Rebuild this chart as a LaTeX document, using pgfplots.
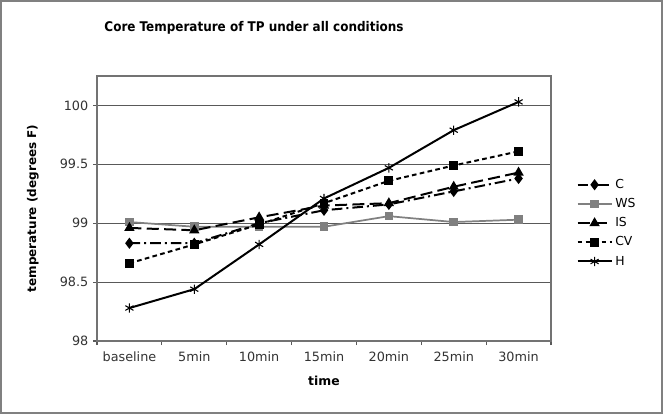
\documentclass[border=0pt]{standalone}
\usepackage{pgfplots}
\pgfplotsset{compat=1.18}
\usepackage{fontspec}
\setmainfont{DejaVu Sans}
\newfontfamily\titlefont{DejaVu Sans Condensed}
\begin{document}
\begin{tikzpicture}
\useasboundingbox (0,0) rectangle (497.25pt,310.5pt);
\draw[gray, line width=1.2pt] (0.8pt,0.8pt) rectangle (496.45pt,309.7pt);
\node[font=\titlefont\bfseries\fontsize{10}{12}\selectfont] at (190.5pt,289.5pt) {Core Temperature of TP under all conditions};
\begin{axis}[
  at={(72.75pt,54.75pt)}, anchor=south west,
  scale only axis, width=340.5pt, height=198.75pt,
  xmin=-0.5, xmax=6.5, ymin=98, ymax=100.25,
  xtick={-0.5,0.5,1.5,2.5,3.5,4.5,5.5,6.5},
  xticklabels={baseline,5min,10min,15min,20min,25min,30min,},
  x tick label as interval,
  ytick={98,98.5,99,99.5,100},
  yticklabels={98,98.5,99,99.5,100},
  ymajorgrids, grid style={black!65, line width=0.8pt},
  tick align=outside, xtick pos=bottom, ytick pos=left,
  major tick length=3pt,
  tick style={black!65, line width=0.8pt},
  axis line style={black!55, line width=0.8pt},
  ticklabel style={font=\fontsize{9.6}{11}\selectfont, text=black!80},
  /pgf/number format/assume math mode=true,
  xticklabel style={yshift=-1.5pt},
  xlabel={\bfseries time}, xlabel style={font=\fontsize{9.3}{11}\selectfont, yshift=-4pt},
  ylabel={\bfseries temperature (degrees F)}, ylabel style={font=\fontsize{9}{11}\selectfont, yshift=9pt},
  legend style={draw=none, fill=none, at={(rel axis cs:1,0.445)}, anchor=west, xshift=19pt,
    font=\fontsize{9.3}{11}\selectfont, row sep=2pt, inner sep=0pt},
  legend cell align=left,
  legend image code/.code={\draw[mark repeat=2,mark phase=2,#1] plot coordinates {(0pt,0pt) (12.75pt,0pt) (25.5pt,0pt)};},
]
\addplot[black, line width=1.5pt, dash pattern=on 8pt off 3pt on 1.5pt off 3pt, mark=diamond*, mark size=3pt, mark options={solid}]
  coordinates {(0,98.83) (1,98.83) (2,99.00) (3,99.11) (4,99.16) (5,99.27) (6,99.38)};
\addlegendentry{C}
\addplot[gray, line width=1.3pt, mark=square*, mark size=2.6pt, mark options={solid, fill=gray}]
  coordinates {(0,99.01) (1,98.97) (2,98.97) (3,98.97) (4,99.06) (5,99.01) (6,99.03)};
\addlegendentry{WS}
\addplot[black, line width=1.5pt, dash pattern=on 9pt off 4pt, mark=triangle*, mark size=3pt, mark options={solid}]
  coordinates {(0,98.96) (1,98.94) (2,99.05) (3,99.15) (4,99.17) (5,99.31) (6,99.43)};
\addlegendentry{IS}
\addplot[black, line width=1.5pt, dash pattern=on 3.5pt off 2.5pt, mark=square*, mark size=2.6pt, mark options={solid}]
  coordinates {(0,98.66) (1,98.82) (2,98.99) (3,99.17) (4,99.36) (5,99.49) (6,99.61)};
\addlegendentry{CV}
\addplot[black, line width=1.5pt, mark=asterisk, mark size=3.5pt, mark options={solid, line width=0.8pt}]
  coordinates {(0,98.28) (1,98.44) (2,98.82) (3,99.21) (4,99.47) (5,99.79) (6,100.03)};
\addlegendentry{H}
\end{axis}
\end{tikzpicture}
\end{document}
